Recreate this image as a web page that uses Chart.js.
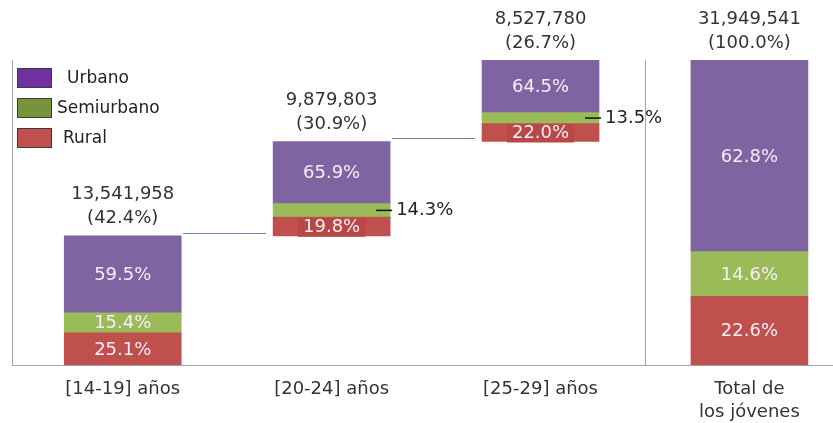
<!DOCTYPE html>
<html lang="es">
<head>
    <meta charset="UTF-8">
    <title>Jóvenes por tipo de localidad</title>
    <script src="https://cdn.jsdelivr.net/npm/chart.js@4.4.1/dist/chart.umd.min.js"></script>
    <style>
        body { margin: 0; background: #fff; }
        #wrap { width: 833px; height: 423px; }
    </style>
</head>
<body>
    <div id="wrap"><canvas id="chart"></canvas></div>

    <script>
        // Datos
        const categorias = [["[14-19] años"], ["[20-24] años"], ["[25-29] años"], ["Total de", "los jóvenes"]];
        const poblacion = [13541958, 9879803, 8527780, 31949541];
        const pctGrupo = [42.4, 30.9, 26.7, 100.0];
        const urbano = [59.5, 65.9, 64.5, 62.8];
        const semiurbano = [15.4, 14.3, 13.5, 14.6];
        const rural = [25.1, 19.8, 22.0, 22.6];

        const FONT = "'DejaVu Sans', sans-serif";

        // base invisible: acumulado de los grupos anteriores (el total arranca en 0)
        const base = pctGrupo.map((v, i) => i === pctGrupo.length - 1 ? 0 :
            pctGrupo.slice(0, i).reduce((a, b) => a + b, 0));

        const seg = (arr) => arr.map((p, i) => ({ x: i, y: p * pctGrupo[i] / 100, pct: p }));

        const legendColors = { 'Urbano': '#7030A0', 'Semiurbano': '#77933C', 'Rural': '#C0504D' };

        const etiquetas = {
            id: 'etiquetas',
            afterDatasetsDraw(chart) {
                const ctx = chart.ctx;
                const xs = chart.scales.x;
                const area = chart.chartArea;
                ctx.save();

                // separador del total
                const sx = Math.round((xs.getPixelForValue(2) + xs.getPixelForValue(3)) / 2) + 0.5;
                ctx.strokeStyle = '#a6a6a6';
                ctx.lineWidth = 1;
                ctx.beginPath();
                ctx.moveTo(sx, area.top);
                ctx.lineTo(sx, area.bottom);
                ctx.stroke();

                // conectores entre barras
                const top = chart.getDatasetMeta(3).data;
                const semi = chart.getDatasetMeta(2).data;
                ctx.strokeStyle = '#6c8aa8';
                for (let i = 0; i < 2; i++) {
                    const a = top[i], b = top[i + 1];
                    const y = Math.round(a.y) - 2.5;
                    ctx.beginPath();
                    ctx.moveTo(a.x + a.width / 2 + 2, y);
                    ctx.lineTo(b.x - b.width / 2 - 7, y);
                    ctx.stroke();
                }

                // porcentajes dentro de los segmentos
                ctx.font = '18px ' + FONT;
                ctx.textBaseline = 'middle';
                for (let d = 1; d <= 3; d++) {
                    const ds = chart.data.datasets[d];
                    chart.getDatasetMeta(d).data.forEach((el, i) => {
                        const txt = ds.data[i].pct.toFixed(1) + '%';
                        const h = Math.abs(el.base - el.y);
                        const cy = (el.base + el.y) / 2;
                        const semiSmall = Math.abs(semi[i].base - semi[i].y) < 16;
                        if (h < 16) {
                            const rx = el.x + el.width / 2;
                            ctx.strokeStyle = '#111';
                            ctx.lineWidth = 1.5;
                            ctx.beginPath();
                            ctx.moveTo(rx - 14, cy);
                            ctx.lineTo(rx + 2, cy);
                            ctx.stroke();
                            ctx.fillStyle = '#222';
                            ctx.textAlign = 'left';
                            ctx.fillText(txt, rx + 6, cy);
                        } else {
                            if (d === 1 && semiSmall) {
                                const w = ctx.measureText(txt).width + 10;
                                ctx.fillStyle = '#b84745';
                                ctx.fillRect(el.x - w / 2, cy - h / 2 + 1, w, h);
                            }
                            ctx.fillStyle = '#f4eef6';
                            ctx.textAlign = 'center';
                            ctx.fillText(txt, el.x, cy + 1);
                        }
                    });
                }

                // totales sobre cada barra
                ctx.fillStyle = '#333';
                ctx.textAlign = 'center';
                top.forEach((el, i) => {
                    ctx.fillText(poblacion[i].toLocaleString('en-US'), el.x, el.y - 41);
                    ctx.fillText('(' + pctGrupo[i].toFixed(1) + '%)', el.x, el.y - 17);
                });

                // leyenda vertical
                ctx.font = '17px ' + FONT;
                ctx.textAlign = 'left';
                ['Urbano', 'Semiurbano', 'Rural'].forEach((name, k) => {
                    const y = 68 + k * 30;
                    ctx.fillStyle = legendColors[name];
                    ctx.fillRect(17, y, 35, 20);
                    ctx.strokeStyle = '#3a3a3a';
                    ctx.lineWidth = 1;
                    ctx.strokeRect(17.5, y + 0.5, 34, 19);
                    ctx.fillStyle = '#222';
                    const tx = name === 'Semiurbano' ? 57 : (name === 'Rural' ? 63 : 67);
                    ctx.fillText(name, tx, y + 11);
                });
                ctx.restore();
            }
        };

        const ctx = document.getElementById('chart');
        new Chart(ctx, {
            type: 'bar',
            data: {
                datasets: [
                    { label: 'base', data: base.map((v, i) => ({ x: i, y: v })), backgroundColor: 'rgba(0,0,0,0)' },
                    { label: 'Rural', data: seg(rural), backgroundColor: '#C0504D' },
                    { label: 'Semiurbano', data: seg(semiurbano), backgroundColor: '#9BBB59' },
                    { label: 'Urbano', data: seg(urbano), backgroundColor: '#8064A2' }
                ]
            },
            options: {
                responsive: true,
                maintainAspectRatio: false,
                animation: false,
                barThickness: 117,
                layout: { padding: { top: 60, left: 4, right: 0, bottom: -5 } },
                plugins: {
                    legend: { display: false },
                    tooltip: { enabled: false }
                },
                scales: {
                    x: {
                        type: 'linear',
                        stacked: true,
                        offset: false,
                        min: -0.53,
                        max: 3.40,
                        afterBuildTicks: (axis) => { axis.ticks = categorias.map((c, i) => ({ value: i })); },
                        ticks: {
                            autoSkip: false,
                            maxRotation: 0,
                            padding: 4,
                            color: '#333',
                            font: { family: FONT, size: 18, lineHeight: 1.3 },
                            callback: (v, i) => categorias[i]
                        },
                        grid: { display: false },
                        border: { display: true, color: '#a6a6a6' }
                    },
                    y: {
                        stacked: true,
                        min: 0,
                        max: 100,
                        ticks: { display: false },
                        grid: { display: false },
                        border: { display: true, color: '#a6a6a6' }
                    }
                }
            },
            plugins: [etiquetas]
        });
    </script>
</body>
</html>
